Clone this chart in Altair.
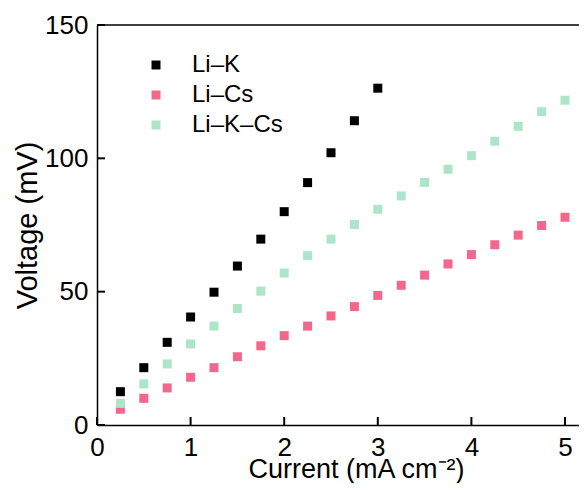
import altair as alt
import pandas as pd

x_lik = [0.25, 0.5, 0.75, 1.0, 1.25, 1.5, 1.75, 2.0, 2.25, 2.5, 2.75, 3.0]
y_lik = [12.5, 21.5, 31.0, 40.5, 49.8, 59.6, 69.7, 80.0, 90.9, 102.1, 114.1, 126.3]

x_all = [0.25, 0.5, 0.75, 1.0, 1.25, 1.5, 1.75, 2.0, 2.25, 2.5, 2.75, 3.0,
         3.25, 3.5, 3.75, 4.0, 4.25, 4.5, 4.75, 5.0]
y_lics = [5.9, 10.0, 13.9, 17.9, 21.5, 25.6, 29.7, 33.5, 37.1, 40.9, 44.4, 48.6,
          52.4, 56.2, 60.4, 63.9, 67.6, 71.2, 74.8, 77.9]
y_likcs = [8.1, 15.4, 22.9, 30.4, 37.1, 43.7, 50.2, 57.0, 63.5, 69.7, 75.2, 80.9,
           85.9, 91.0, 95.9, 101.0, 106.4, 112.0, 117.5, 121.8]

series = ["Li–K", "Li–Cs", "Li–K–Cs"]
colors = ["#000000", "#f2678b", "#ade5c8"]

x_ticks = [0, 1, 2, 3, 4, 5]
y_ticks = [0, 50, 100, 150]

rows = []
for x, y in zip(x_lik, y_lik):
    rows.append({"x": x, "y": y, "s": series[0]})
for x, y in zip(x_all, y_lics):
    rows.append({"x": x, "y": y, "s": series[1]})
for x, y in zip(x_all, y_likcs):
    rows.append({"x": x, "y": y, "s": series[2]})
df = pd.DataFrame(rows)

W = 482
PX_PER_UNIT = 93.6
XD = [0, W / PX_PER_UNIT]
YD = [0, 150]
FONT = "Liberation Sans"

xs = alt.Scale(domain=XD, nice=False, zero=False)
ys = alt.Scale(domain=YD, nice=False)

xa = alt.Axis(values=x_ticks, title="Current (mA cm⁻²)", tickSize=0, labelPadding=9,
              labelFontSize=26, titleFontSize=27, titlePadding=-4, grid=False,
              titleX=259, labelFlush=False)
ya = alt.Axis(values=y_ticks, title="Voltage (mV)", tickSize=0, labelPadding=9,
              labelFontSize=26, titleFontSize=29, titlePadding=2, grid=False,
              labelFlush=False)

points = alt.Chart(df).mark_square(size=81, opacity=1).encode(
    x=alt.X("x:Q", scale=xs, axis=xa),
    y=alt.Y("y:Q", scale=ys, axis=ya),
    color=alt.Color("s:N", scale=alt.Scale(domain=series, range=colors),
                    sort=series,
                    legend=alt.Legend(title=None, orient="none", legendX=47, legendY=28,
                                      labelFontSize=24, symbolSize=81, symbolType="square",
                                      labelOffset=24, rowPadding=6,
                                      symbolStrokeWidth=0, labelFont=FONT,
                                      labelColor="black")),
)

xt = pd.DataFrame({"t": x_ticks})
yt = pd.DataFrame({"t": y_ticks})

xtick_layer = alt.Chart(xt).mark_rule(color="black", strokeWidth=2).encode(
    x=alt.X("t:Q", scale=xs, axis=xa), y=alt.value(400), y2=alt.value(392))
ytick_layer = alt.Chart(yt).mark_rule(color="black", strokeWidth=2).encode(
    y=alt.Y("t:Q", scale=ys, axis=ya), x=alt.value(0), x2=alt.value(8))
top_border = alt.Chart(pd.DataFrame({"t": [150]})).mark_rule(color="black", strokeWidth=1.5).encode(
    y=alt.Y("t:Q", scale=ys, axis=ya))

chart = alt.layer(points, xtick_layer, ytick_layer, top_border).properties(
    width=W, height=400,
    autosize=alt.AutoSizeParams(type="none"),
    padding={"left": 89, "top": 17, "right": 0, "bottom": 58},
    background="white",
).configure_view(strokeWidth=0).configure_axis(
    domainColor="black", domainWidth=1.5, labelColor="black", titleColor="black",
    labelFont=FONT, titleFont=FONT, titleFontWeight="normal",
)

chart.save("out.html", embed_options={"renderer": "svg", "actions": False})
